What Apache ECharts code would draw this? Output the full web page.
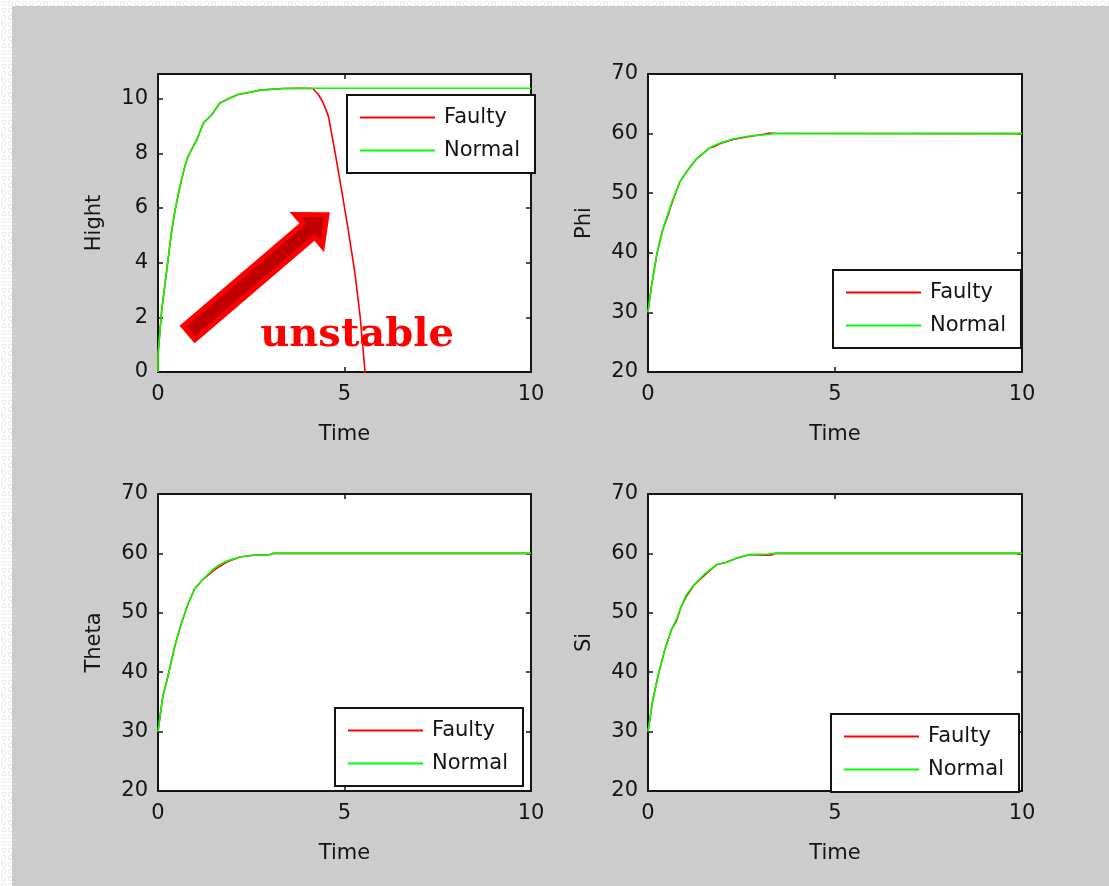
<!DOCTYPE html>
<html>
<head>
<meta charset="utf-8">
<title>Faulty vs Normal response</title>
<script src="https://cdn.jsdelivr.net/npm/echarts@6/dist/echarts.min.js"></script>
<style>
  html, body { margin: 0; padding: 0; width: 1109px; height: 886px; overflow: hidden; }
  body {
    background-color: #ffffff;
    background-image: radial-gradient(circle, rgba(255,255,255,0) 1.6px, #e6e6e6 2.2px, rgba(255,255,255,0) 2.8px);
    background-size: 7px 7px;
  }
  #panel { position: absolute; left: 12px; top: 6px; right: 0; bottom: 0; background: #cccccc; }
  #chart { position: absolute; left: 0; top: 0; width: 1109px; height: 886px; }
</style>
</head>
<body>
<div id="panel"></div>
<div id="chart"></div>
<script>
// ---- Hight ----
const hightNormalTime = [0, 0, 0.1, 0.19, 0.28, 0.37, 0.46, 0.55, 0.63, 0.72, 0.79, 0.9, 1.04, 1.22, 1.44, 1.66, 1.93, 2.15, 2.47, 2.73, 3.36, 3.8, 10];
const hightNormal     = [0, 0.62, 2.27, 3.25, 4.22, 5.2, 5.93, 6.54, 7.03, 7.52, 7.83, 8.13, 8.5, 9.11, 9.41, 9.84, 10.02, 10.15, 10.23, 10.31, 10.37, 10.38, 10.38];
const hightFaultyTime = [0, 0, 0.1, 0.19, 0.28, 0.37, 0.46, 0.55, 0.63, 0.72, 0.79, 0.9, 1.04, 1.22, 1.44, 1.66, 1.93, 2.15, 2.47, 2.73, 3.36, 3.8, 4.15, 4.3, 4.43, 4.57, 4.75, 4.92, 5.1, 5.28, 5.42, 5.55, 5.6];
const hightFaulty     = [0, 0.62, 2.27, 3.25, 4.22, 5.2, 5.93, 6.54, 7.03, 7.52, 7.83, 8.13, 8.5, 9.11, 9.41, 9.84, 10.02, 10.15, 10.23, 10.31, 10.37, 10.38, 10.37, 10.15, 9.84, 9.35, 8.01, 6.67, 5.2, 3.61, 2.03, 0, -0.6];

// ---- Phi ----
const phiTime   = [0, 0.09, 0.24, 0.4, 0.52, 0.62, 0.85, 1.03, 1.29, 1.65, 1.8, 1.92, 2.27, 2.72, 3.1, 3.25, 3.35, 10];
const phiNormal = [30, 34.3, 39.9, 44.0, 46.3, 48.2, 51.9, 53.6, 55.7, 57.6, 58.1, 58.4, 59.1, 59.6, 59.8, 59.9, 60, 60];
const phiFaulty = [30, 34.3, 39.9, 44.0, 46.0, 48.0, 51.9, 53.6, 55.7, 57.6, 57.9, 58.3, 59.0, 59.5, 59.9, 60.1, 60.05, 60];

// ---- Theta ----
const thetaTime   = [0, 0.13, 0.27, 0.45, 0.63, 0.8, 0.98, 1.2, 1.47, 1.65, 1.83, 2.19, 2.55, 3.0, 3.08, 10];
const thetaNormal = [30, 36.0, 39.4, 44.4, 48.3, 51.4, 54.0, 55.6, 57.3, 58.1, 58.7, 59.4, 59.7, 59.8, 60, 60];
const thetaFaulty = [30, 36.0, 39.4, 44.4, 48.3, 51.4, 54.0, 55.6, 57.0, 57.8, 58.5, 59.4, 59.7, 59.8, 60, 60];

// ---- Si ----
const siTime   = [0, 0.13, 0.27, 0.45, 0.63, 0.76, 0.89, 1.03, 1.25, 1.51, 1.83, 2.1, 2.36, 2.72, 3.2, 3.3, 3.4, 10];
const siNormal = [30, 35.4, 39.4, 43.8, 47.2, 48.9, 51.1, 53.1, 54.8, 56.5, 58.1, 58.5, 59.2, 59.8, 59.9, 59.95, 60, 60];
const siFaulty = [30, 35.4, 39.4, 43.8, 47.2, 48.6, 51.1, 52.8, 54.8, 56.3, 58.1, 58.5, 59.2, 59.8, 59.7, 59.75, 60, 60];

const yNames = ['Hight', 'Phi', 'Theta', 'Si'];
const yRanges = [[0, 10.9, 2], [20, 70, 10], [20, 70, 10], [20, 70, 10]];
const xRange = [0, 10, 5];
const seriesNames = ['Faulty', 'Normal'];

const panels = [
  { faulty: [hightFaultyTime, hightFaulty], normal: [hightNormalTime, hightNormal] },
  { faulty: [phiTime, phiFaulty],           normal: [phiTime, phiNormal] },
  { faulty: [thetaTime, thetaFaulty],       normal: [thetaTime, thetaNormal] },
  { faulty: [siTime, siFaulty],             normal: [siTime, siNormal] }
];

const zip = (xs, ys) => xs.map((x, i) => [x, ys[i]]);

const gridBoxes = [
  { left: 158, top: 74, width: 373, height: 298 },
  { left: 648, top: 74, width: 374, height: 298 },
  { left: 158, top: 494, width: 373, height: 297 },
  { left: 648, top: 494, width: 374, height: 297 }
];
const legendBoxes = [
  { left: 347, top: 95 },
  { left: 833, top: 270 },
  { left: 335, top: 708 },
  { left: 831, top: 714 }
];

const FONT = '"DejaVu Sans", "Liberation Sans", Arial, sans-serif';
const INK = '#141414';

const grids = [], xAxes = [], yAxes = [], series = [], legends = [];

const tickStyle = () => ({ show: true, inside: true, length: 5, lineStyle: { color: INK, width: 1.5 } });
const lineStyleAxis = () => ({ show: true, onZero: false, lineStyle: { color: INK, width: 2 } });

gridBoxes.forEach((g, i) => {
  grids.push(Object.assign({ show: true, backgroundColor: '#ffffff', borderWidth: 0 }, g));

  const [ymin, ymax, yint] = yRanges[i];

  // bottom / left axes carry labels and names
  xAxes.push({
    type: 'value', gridIndex: i, position: 'bottom', min: xRange[0], max: xRange[1], interval: xRange[2],
    axisLine: lineStyleAxis(), axisTick: tickStyle(), splitLine: { show: false },
    axisLabel: { fontFamily: FONT, fontSize: 21, color: INK, margin: 12 },
    name: 'Time', nameLocation: 'middle', nameGap: 52,
    nameTextStyle: { fontFamily: FONT, fontSize: 21, color: INK }
  });
  // top axis: ticks only
  xAxes.push({
    type: 'value', gridIndex: i, position: 'top', min: xRange[0], max: xRange[1], interval: xRange[2],
    axisLine: lineStyleAxis(), axisTick: tickStyle(), axisLabel: { show: false }, splitLine: { show: false }
  });
  yAxes.push({
    type: 'value', gridIndex: i, position: 'left', min: ymin, max: ymax, interval: yint,
    axisLine: lineStyleAxis(), axisTick: tickStyle(), splitLine: { show: false },
    axisLabel: { fontFamily: FONT, fontSize: 21, color: INK, margin: 10, showMaxLabel: i !== 0 },
    name: yNames[i], nameLocation: 'middle', nameGap: 53, nameRotate: 90,
    nameTextStyle: { fontFamily: FONT, fontSize: 21, color: INK }
  });
  // right axis: ticks only
  yAxes.push({
    type: 'value', gridIndex: i, position: 'right', min: ymin, max: ymax, interval: yint,
    axisLine: lineStyleAxis(), axisTick: tickStyle(), axisLabel: { show: false }, splitLine: { show: false }
  });

  const p = panels[i];
  series.push({
    name: 'Faulty', type: 'line', xAxisIndex: 2 * i, yAxisIndex: 2 * i,
    data: zip(p.faulty[0], p.faulty[1]), symbol: 'none', clip: true,
    lineStyle: { color: '#ff0000', width: 1.6 }, itemStyle: { color: '#ff0000' },
    silent: true, z: 2
  });
  series.push({
    name: 'Normal', type: 'line', xAxisIndex: 2 * i, yAxisIndex: 2 * i,
    data: zip(p.normal[0], p.normal[1]), symbol: 'none', clip: true,
    lineStyle: { color: '#00ff00', width: 1.6 }, itemStyle: { color: '#00ff00' },
    silent: true, z: 3
  });

  legends.push(Object.assign({
    data: seriesNames, orient: 'vertical', selectedMode: false, icon: 'rect',
    backgroundColor: '#ffffff', borderColor: INK, borderWidth: 2, borderRadius: 0,
    padding: [12, 15, 12, 13], itemGap: 12, itemWidth: 75, itemHeight: 2,
    textStyle: { fontFamily: FONT, fontSize: 21, color: INK, padding: [0, 0, 0, 4] }
  }, legendBoxes[i]));
});

const chart = echarts.init(document.getElementById('chart'), null, { renderer: 'canvas' });
chart.setOption({
  backgroundColor: 'transparent',
  animation: false,
  grid: grids, xAxis: xAxes, yAxis: yAxes, legend: legends, series: series
});

// Annotation arrow and label anchored to the Hight panel's data coordinates
const arrowTail = [0.83, 1.43];
const arrowTip = [4.53, 5.75];
const labelAnchor = [2.74, 0.6];

const t = chart.convertToPixel({ gridIndex: 0 }, arrowTail);
const h = chart.convertToPixel({ gridIndex: 0 }, arrowTip);
const dx = h[0] - t[0], dy = h[1] - t[1];
const len = Math.hypot(dx, dy);
const ux = dx / len, uy = dy / len, nx = -uy, ny = ux;
const shaftHalf = 9, headHalf = 21, headLen = 24;
const bx = h[0] - ux * headLen, by = h[1] - uy * headLen;
const arrowPts = [
  [t[0] + nx * shaftHalf, t[1] + ny * shaftHalf],
  [bx + nx * shaftHalf, by + ny * shaftHalf],
  [bx + nx * headHalf, by + ny * headHalf],
  [h[0], h[1]],
  [bx - nx * headHalf, by - ny * headHalf],
  [bx - nx * shaftHalf, by - ny * shaftHalf],
  [t[0] - nx * shaftHalf, t[1] - ny * shaftHalf]
];
const lp = chart.convertToPixel({ gridIndex: 0 }, labelAnchor);

chart.setOption({
  graphic: [
    {
      type: 'polygon', z: 100,
      shape: { points: arrowPts },
      style: { fill: '#c00000', stroke: '#ff0000', lineWidth: 5, lineJoin: 'miter' }
    },
    {
      type: 'text', z: 100, x: lp[0], y: lp[1],
      style: {
        text: 'unstable', fill: '#ff0000',
        font: 'bold 40px "DejaVu Serif", "Liberation Serif", serif',
        align: 'left', verticalAlign: 'bottom'
      }
    }
  ]
});
</script>
</body>
</html>
